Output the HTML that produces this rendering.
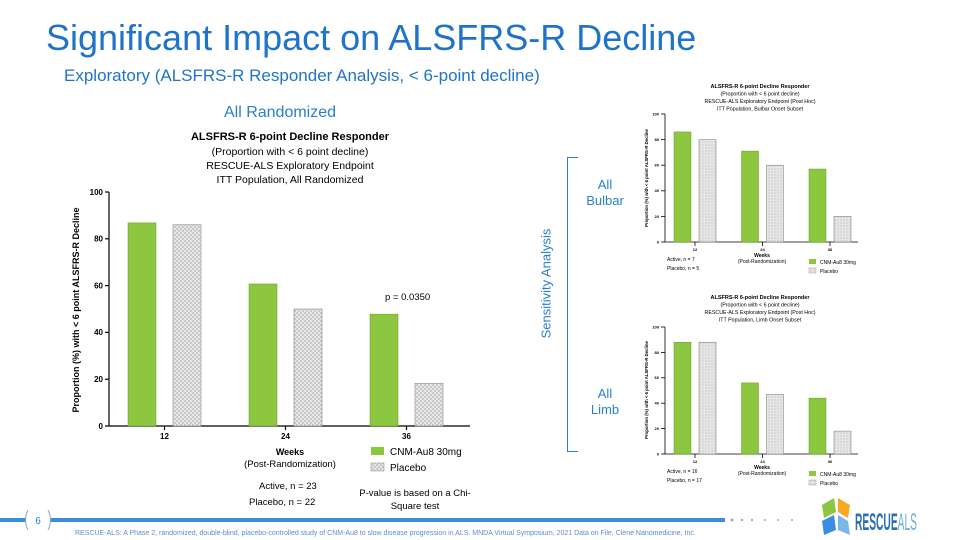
<!DOCTYPE html>
<html><head><meta charset="utf-8">
<style>
html,body{margin:0;padding:0;background:#fff;}
body{width:960px;height:540px;position:relative;overflow:hidden;font-family:"Liberation Sans",Arial,sans-serif;}
.abs{position:absolute;}
</style></head>
<body>
<div class="abs" style="left:46px;top:17px;font-size:36px;color:#1f73c9;white-space:nowrap;">Significant Impact on ALSFRS-R Decline</div>
<div class="abs" style="left:64px;top:66px;font-size:17px;color:#1f73c9;white-space:nowrap;">Exploratory (ALSFRS-R Responder Analysis, &lt; 6-point decline)</div>
<div class="abs" style="left:220px;top:104px;font-size:16px;color:#2a7fcf;width:120px;text-align:center;">All Randomized</div>
<div class="abs" style="left:486px;top:276px;width:120px;text-align:center;font-size:13px;color:#2a7fcf;transform:rotate(-90deg);">Sensitivity Analysis</div>
<div class="abs" style="left:567px;top:157px;width:10px;height:293px;border-left:1px solid #2a7fcf;border-top:1px solid #2a7fcf;border-bottom:1px solid #2a7fcf;"></div>
<div class="abs" style="left:580px;top:177px;width:50px;text-align:center;font-size:13px;color:#2a7fcf;line-height:16px;">All<br>Bulbar</div>
<div class="abs" style="left:580px;top:386px;width:50px;text-align:center;font-size:13px;color:#2a7fcf;line-height:16px;">All<br>Limb</div>

<svg class="abs" style="left:0;top:0" width="960" height="540">
<defs>
<pattern id="dots" width="4" height="4" patternUnits="userSpaceOnUse"><rect width="4" height="4" fill="#e6e6e6"/><circle cx="1" cy="1" r="0.7" fill="#9a9a9a"/><circle cx="3" cy="3" r="0.7" fill="#9a9a9a"/></pattern>
<pattern id="dots2" width="3" height="3" patternUnits="userSpaceOnUse"><rect width="3" height="3" fill="#e6e6e6"/><circle cx="1" cy="1" r="0.5" fill="#a0a0a0"/></pattern>
</defs>
<g id="main"></g><g id="bulbar"></g><g id="limb"></g>
<!-- footer -->
<rect x="0" y="518" width="725" height="4" fill="#3b8ede"/>
<rect x="26" y="508" width="24" height="24" fill="#fff"/>
<path d="M28 510 q-5 10 0 20 M48 510 q5 10 0 20" stroke="#8ab" fill="none"/>
<text x="38" y="524" font-size="10" fill="#2a7fcf" text-anchor="middle">6</text>
<g fill="#9ab"><circle cx="732" cy="520" r="1.5"/><circle cx="742" cy="520" r="1.2"/><circle cx="752" cy="520" r="1.2"/><circle cx="765" cy="520" r="1"/><circle cx="778" cy="520" r="1"/><circle cx="792" cy="520" r="1"/></g>
<g>
<polygon points="822,505 834,498 836,512 824,518" fill="#8dc63f"/>
<polygon points="838,498 850,505 848,518 838,512" fill="#f7a823"/>
<polygon points="822,521 834,515 836,530 824,535" fill="#3b8ede"/>
<polygon points="838,515 848,521 850,535 838,530" fill="#7ab6e8"/>
</g>
<text x="855" y="530" font-size="24" font-weight="bold" fill="#2c6fb5" textLength="62" lengthAdjust="spacingAndGlyphs">RESCUE<tspan font-weight="normal" fill="#6aaee6">ALS</tspan></text>
<text x="75" y="535" font-size="7" fill="#5b8fc6">RESCUE-ALS: A Phase 2, randomized, double-blind, placebo-controlled study of CNM-Au8 to slow disease progression in ALS. MNDA Virtual Symposium, 2021 Data on File, Clene Nanomedicine, Inc.</text>
</svg>

<script>
const weeks = ["12","24","36"];
const mainActive = [86.8, 60.7, 47.8];
const mainPlacebo = [86.0, 50.0, 18.2];
const bulbarActive = [86, 71, 57];
const bulbarPlacebo = [80, 60, 20];
const limbActive = [88, 56, 44];
const limbPlacebo = [88, 47, 18];
const yTicks = [0, 20, 40, 60, 80, 100];

const NS = "http://www.w3.org/2000/svg";
function mk(parent, tag, attrs, txt){
  const e = document.createElementNS(NS, tag);
  for (const k in attrs) e.setAttribute(k, attrs[k]);
  if (txt !== undefined) e.textContent = txt;
  parent.appendChild(e);
  return e;
}
function drawChart(gid, cfg, act, plc){
  const g = document.getElementById(gid);
  const y = v => cfg.y0 - v / 100 * (cfg.y0 - cfg.y100);
  const gx = i => cfg.x0 + cfg.firstOff + i * cfg.step;
  const ya = mk(g, "line", {x1:cfg.x0, x2:cfg.x0, y1:cfg.y100, y2:cfg.y0, stroke:"#000", "stroke-width":cfg.sw});
  
  
  const xa = mk(g, "line", {x1:cfg.x0, x2:cfg.x1, y1:cfg.y0, y2:cfg.y0, stroke:"#000", "stroke-width":cfg.sw});
  
  
  yTicks.forEach(t => {
    mk(g, "line", {x1:cfg.x0 - 4, x2:cfg.x0, y1:y(t), y2:y(t), stroke:"#000", "stroke-width":cfg.sw});
    const tl = mk(g, "text", {x:cfg.x0 - 6, y:y(t) + cfg.fs * 0.35, "font-size":cfg.fs, "font-weight":"bold", "text-anchor":"end"}, t);
    
    
  });
  weeks.forEach((w, i) => {
    const cx = gx(i) + cfg.bw + cfg.gap / 2;
    mk(g, "line", {x1:cx, x2:cx, y1:cfg.y0, y2:cfg.y0 + 4, stroke:"#000", "stroke-width":cfg.sw});
    const xl = mk(g, "text", {x:cx, y:cfg.y0 + 5 + cfg.fs, "font-size":cfg.fs, "font-weight":"bold", "text-anchor":"middle"}, w);
    
    
    const a = mk(g, "rect", {x:gx(i), y:y(act[i]), width:cfg.bw, height:cfg.y0 - y(act[i]), fill:"#8dc63f", stroke:"#6a9a2a", "stroke-width":0.5});
    
    
    const p = mk(g, "rect", {x:gx(i) + cfg.bw + cfg.gap, y:y(plc[i]), width:cfg.bw, height:cfg.y0 - y(plc[i]), fill:"url(#" + cfg.pat + ")", stroke:"#888", "stroke-width":0.6});
    
    
  });
}
drawChart("main", {x0:109, x1:470, y0:426, y100:192, firstOff:19, step:121, bw:28, gap:17, fs:8, sw:1.2, pat:"dots"}, mainActive, mainPlacebo);
drawChart("bulbar", {x0:665, x1:858, y0:242, y100:114, firstOff:9, step:67.5, bw:17, gap:8, fs:4, sw:0.8, pat:"dots2"}, bulbarActive, bulbarPlacebo);
drawChart("limb", {x0:665, x1:858, y0:454, y100:327, firstOff:9, step:67.5, bw:17, gap:8, fs:4, sw:0.8, pat:"dots2"}, limbActive, limbPlacebo);

const main = document.getElementById("main");
function txt(p, x, y, s, t, extra){
  const a = Object.assign({x:x, y:y, "font-size":s}, extra || {});
  return mk(p, "text", a, t);
}
let e;
e = txt(main, 290, 140, 11, "ALSFRS-R 6-point Decline Responder", {"font-weight":"bold","text-anchor":"middle"});


["(Proportion with < 6 point decline)", "RESCUE-ALS Exploratory Endpoint", "ITT Population, All Randomized"].forEach((s, i) => {
  const t = txt(main, 290, 155 + i * 14, 10.5, s, {"text-anchor":"middle"});
  
  
});
e = txt(main, 0, 0, 9, "Proportion (%) with < 6 point ALSFRS-R Decline", {"font-weight":"bold","text-anchor":"middle", transform:"translate(79,310) rotate(-90)"});


e = txt(main, 290, 455, 9, "Weeks", {"font-weight":"bold","text-anchor":"middle"});


e = txt(main, 290, 467, 9.5, "(Post-Randomization)", {"text-anchor":"middle"});


e = txt(main, 385, 300, 9.5, "p =  0.0350");


e = txt(main, 259, 489, 9.5, "Active, n = 23");


e = txt(main, 249, 505, 9.5, "Placebo, n = 22");


e = txt(main, 415, 496, 9.5, "P-value is based on a Chi-", {"text-anchor":"middle"});


txt(main, 415, 509, 9.5, "Square test", {"text-anchor":"middle"});
e = mk(main, "rect", {x:371, y:447, width:13, height:8, fill:"#8dc63f"});


e = txt(main, 390, 455, 10, "CNM-Au8 30mg");


e = mk(main, "rect", {x:371, y:463, width:13, height:8, fill:"url(#dots)", stroke:"#888", "stroke-width":0.5});


e = txt(main, 390, 471, 10, "Placebo");



function small(gid, top, sub, nA, nP){
  const g = document.getElementById(gid);
  let t = txt(g, 760, top, 5.5, "ALSFRS-R 6-point Decline Responder", {"font-weight":"bold","text-anchor":"middle"});
  
  
  ["(Proportion with < 6 point decline)", "RESCUE-ALS Exploratory Endpoint (Post Hoc)", sub].forEach((s, i) => {
    txt(g, 760, top + 7.5 * (i + 1), 5.3, s, {"text-anchor":"middle"});
  });
  const y0 = gid === "bulbar" ? 242 : 454;
  t = txt(g, 0, 0, 4.3, "Proportion (%) with < 6 point ALSFRS-R Decline", {"font-weight":"bold","text-anchor":"middle", transform:"translate(648," + (y0 - 64) + ") rotate(-90)"});
  
  
  txt(g, 762, y0 + 15, 5, "Weeks", {"font-weight":"bold","text-anchor":"middle"});
  txt(g, 762, y0 + 21, 5, "(Post-Randomization)", {"text-anchor":"middle"});
  txt(g, 667, y0 + 19, 5, nA);
  txt(g, 667, y0 + 28, 5, nP);
  mk(g, "rect", {x:809, y:y0 + 17, width:7, height:5, fill:"#8dc63f"});
  txt(g, 820, y0 + 22, 5, "CNM-Au8 30mg");
  mk(g, "rect", {x:809, y:y0 + 26, width:7, height:5, fill:"url(#dots2)", stroke:"#888", "stroke-width":0.4});
  txt(g, 820, y0 + 31, 5, "Placebo");
}
small("bulbar", 88, "ITT Population, Bulbar Onset Subset", "Active, n = 7", "Placebo, n = 5");
small("limb", 299, "ITT Population, Limb Onset Subset", "Active, n = 16", "Placebo, n = 17");
</script>
</body></html>
